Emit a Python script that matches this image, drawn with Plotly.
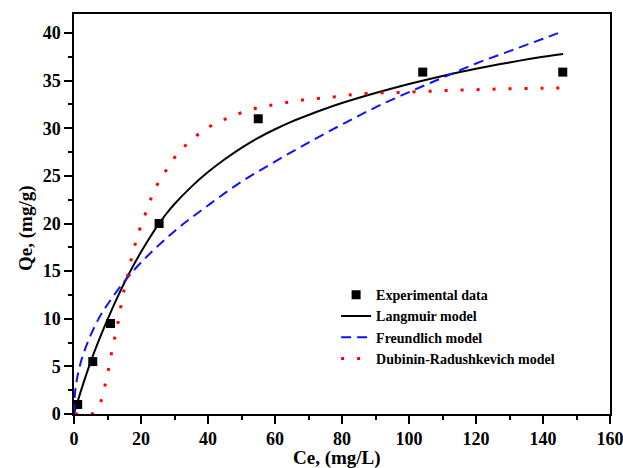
import plotly.graph_objects as go

# Experimental data
exp_ce = [1.1, 5.6, 10.9, 25.4, 55.0, 104.1, 145.9]
exp_qe = [1.0, 5.5, 9.5, 20.0, 31.0, 35.9, 35.9]

# Langmuir model curve
lang_ce = [0, 1, 2.5, 5, 7.5, 10, 12.5, 15, 17.5, 20, 22.5, 25, 27.5, 30, 35, 40, 45, 50, 55, 60, 65, 70, 75, 80, 90, 100, 110, 120, 130, 140, 146]
lang_qe = [0, 1.2, 2.9, 5.5, 7.8, 9.9, 11.9, 13.75, 15.45, 17.0, 18.45, 19.8, 21.0, 22.05, 23.85, 25.4, 26.75, 27.95, 29.0, 29.9, 30.7, 31.4, 32.05, 32.65, 33.7, 34.65, 35.5, 36.25, 36.9, 37.5, 37.8]

# Freundlich model curve
freu_ce = [0, 0.3, 0.6, 1, 2, 3.5, 5, 7.5, 10, 15, 20, 30, 40, 50, 60, 70, 80, 90, 100, 110, 120, 130, 140, 146]
freu_qe = [0, 2.2, 3.0, 3.9, 5.4, 7.0, 8.3, 10.1, 11.5, 13.9, 15.9, 19.2, 21.9, 24.4, 26.5, 28.5, 30.4, 32.2, 33.8, 35.3, 36.8, 38.1, 39.4, 40.2]

# Dubinin-Radushkevich model curve
dr_ce = [0.3, 3.0, 5.3, 6.8, 8.1, 9.3, 10.3, 11.2, 12.2, 13.2, 14.0, 15.0, 16.2, 17.2, 18.4, 19.7, 21.5, 23.2, 25.2,
         27.7, 30.4, 33.6, 37.6, 41.6, 46.1, 50.5, 55.3, 60, 65, 70, 75, 80, 85, 90, 95, 100, 110, 120, 130, 140, 146]
dr_qe = [0, 0, 0, 0.5, 1.4, 3.1, 4.7, 6.4, 8.05, 9.7, 11.3, 13.1, 14.8, 16.4, 18.0, 19.5, 21.2, 22.8, 24.3,
         25.7, 27.1, 28.3, 29.5, 30.4, 31.1, 31.7, 32.2, 32.5, 32.8, 33.05, 33.2, 33.4, 33.6, 33.7, 33.75, 33.8, 33.95, 34.05, 34.15, 34.2, 34.25]

x_ticks = [0, 20, 40, 60, 80, 100, 120, 140, 160]
y_ticks = [0, 5, 10, 15, 20, 25, 30, 35, 40]

FONT = "Liberation Serif"

fig = go.Figure()
fig.add_trace(go.Scatter(x=exp_ce, y=exp_qe, mode="markers", name="<b>Experimental data</b>",
                         marker=dict(symbol="square", size=9, color="black")))
fig.add_trace(go.Scatter(x=lang_ce, y=lang_qe, mode="lines", name="<b>Langmuir model</b>",
                         line=dict(color="black", width=2, shape="spline")))
fig.add_trace(go.Scatter(x=freu_ce, y=freu_qe, mode="lines", name="<b>Freundlich model</b>",
                         line=dict(color="#1010ff", width=2, dash="10px,6px", shape="spline")))
fig.add_trace(go.Scatter(x=dr_ce, y=dr_qe, mode="lines", name="<b>Dubinin-Radushkevich model</b>",
                         line=dict(color="#ff0000", width=3, dash="3px,13px", shape="spline")))

axis_common = dict(
    showgrid=False, zeroline=False, showline=True, linecolor="black", linewidth=1.5,
    mirror=True, ticks="outside", ticklen=8, tickwidth=1.5, tickcolor="black",
    tickfont=dict(family=FONT, size=18, color="black"), automargin=False,
    ticklabeloverflow="allow",
)

fig.update_xaxes(range=[0, 160], tickvals=x_ticks, ticktext=[f"<b>{v}</b>" for v in x_ticks],
                 minor=dict(ticks="outside", ticklen=4, tickwidth=1.5, tickcolor="black", dtick=10, tick0=0),
                 **axis_common)
fig.update_yaxes(range=[0, 42], tickvals=y_ticks, ticktext=[f"<b>{v}</b>" for v in y_ticks],
                 minor=dict(ticks="outside", ticklen=4, tickwidth=1.5, tickcolor="black", dtick=2.5, tick0=0),
                 **axis_common)

fig.add_annotation(text="<b>Ce, (mg/L)</b>", xref="paper", yref="paper", x=0.49, y=-0.11,
                   xanchor="center", yanchor="middle", showarrow=False,
                   font=dict(family=FONT, size=19, color="black"))
fig.add_annotation(text="<b>Qe, (mg/g)</b>", xref="paper", yref="paper", x=-0.0896, y=0.465,
                   xanchor="center", yanchor="middle", textangle=-90, showarrow=False,
                   font=dict(family=FONT, size=19, color="black"))

fig.update_layout(
    width=623, height=468,
    margin=dict(l=74, r=13, t=14, b=54),
    paper_bgcolor="white", plot_bgcolor="white",
    font=dict(family=FONT, color="black"),
    legend=dict(x=0.489, y=0.337, xanchor="left", yanchor="top",
                bgcolor="rgba(0,0,0,0)", font=dict(family=FONT, size=14, color="black"),
                tracegroupgap=0, itemwidth=30),
    showlegend=True,
)

fig.write_html("out.html", config={"displayModeBar": False},
               post_script="document.body.style.margin='0';document.body.style.overflow='hidden';")
